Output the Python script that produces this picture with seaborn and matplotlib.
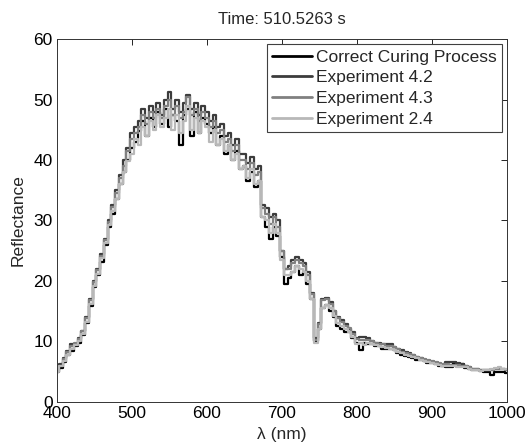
## reflectance spectra at one curing time step
import numpy as np
import pandas as pd
import matplotlib
matplotlib.use("Agg")
import matplotlib.pyplot as plt
import seaborn as sns

## sampling grid (nm)
wavelength = np.arange(400, 1001, 5)

correct = [
    5.0, 5.6, 6.6, 7.8, 8.4, 9.3, 9.8, 11.0, 13.0, 15.8,
    19.0, 21.0, 23.2, 26.0, 29.0, 31.0, 33.5, 36.0, 38.0, 40.0,
    42.0, 43.0, 44.8, 46.5, 44.0, 47.0, 45.5, 48.0, 46.0, 48.5,
    45.5, 47.5, 46.5, 42.5, 47.5, 48.5, 44.0, 48.0, 44.5, 47.0,
    46.0, 44.5, 45.5, 42.5, 44.0, 41.0, 42.5, 40.0, 41.5, 38.5,
    39.0, 36.5, 38.0, 35.5, 36.5, 30.5, 29.0, 27.0, 29.0, 27.5,
    24.0, 19.5, 20.5, 21.5, 22.5, 21.0, 21.5, 19.5, 17.0, 10.0,
    12.0, 15.5, 16.0, 15.0, 14.0, 12.5, 12.0, 11.5, 11.5, 10.5,
    9.8, 8.6, 9.8, 9.6, 9.5, 9.2, 9.2, 8.8, 8.8, 8.7,
    8.5, 8.0, 7.8, 7.6, 7.4, 7.2, 7.0, 6.9, 6.7, 6.5,
    6.4, 6.2, 6.0, 6.0, 5.8, 5.8, 6.4, 6.3, 6.2, 5.6,
    5.4, 5.2, 5.2, 5.1, 5.0, 5.0, 4.4, 5.0, 5.0, 4.9,
    4.8]

exp_42 = [
    5.3, 6.2, 7.2, 8.4, 9.5, 9.6, 10.5, 11.8, 14.0, 17.0,
    20.0, 22.0, 24.5, 27.0, 30.0, 32.5, 35.0, 37.5, 40.0, 42.0,
    44.5, 45.5, 46.5, 48.5, 47.0, 49.0, 48.0, 49.5, 47.5, 50.0,
    51.3, 48.5, 50.0, 48.0, 49.5, 50.8, 48.5, 49.5, 47.5, 49.0,
    48.0, 46.5, 47.5, 45.5, 46.0, 44.0, 44.5, 42.5, 43.5, 41.0,
    41.0, 39.5, 40.5, 38.5, 39.0, 32.5, 32.0, 30.5, 31.0, 30.0,
    25.0, 22.0, 22.5, 23.5, 24.0, 23.5, 23.0, 21.5, 18.0, 10.5,
    13.0, 17.0, 17.2, 16.5, 15.0, 14.0, 13.5, 12.8, 12.0, 11.5,
    10.5, 10.8, 10.8, 10.6, 10.0, 9.8, 9.8, 9.6, 9.5, 9.5,
    9.0, 8.8, 8.5, 8.2, 8.0, 7.8, 7.5, 7.2, 7.0, 6.8,
    6.6, 6.4, 6.2, 6.0, 6.6, 6.6, 6.6, 6.4, 6.3, 6.0,
    5.7, 5.5, 5.4, 5.3, 5.3, 5.2, 5.3, 5.4, 5.5, 5.4,
    5.3]

exp_43 = [
    5.2, 6.0, 7.1, 8.2, 9.2, 9.8, 10.4, 11.7, 13.8, 16.8,
    19.8, 21.8, 24.2, 26.8, 29.8, 32.3, 34.5, 37.0, 39.0, 41.5,
    43.5, 44.5, 45.5, 47.5, 46.0, 48.0, 47.0, 48.5, 47.0, 49.0,
    50.0, 47.5, 49.0, 47.0, 48.0, 50.5, 47.5, 48.5, 46.5, 48.0,
    47.0, 45.5, 46.5, 44.5, 45.0, 43.0, 43.5, 41.5, 42.5, 40.0,
    40.0, 38.5, 39.5, 37.5, 38.0, 32.0, 31.0, 29.5, 30.5, 29.0,
    25.0, 22.0, 22.0, 23.0, 23.5, 23.0, 22.5, 21.0, 17.8, 10.3,
    12.8, 16.8, 17.0, 16.2, 15.0, 13.8, 13.2, 12.5, 12.2, 11.2,
    10.4, 10.2, 10.2, 10.2, 10.0, 9.8, 9.6, 9.5, 9.3, 9.2,
    9.0, 8.7, 8.3, 8.1, 7.9, 7.7, 7.5, 7.3, 7.1, 6.9,
    6.8, 6.6, 6.4, 6.2, 6.2, 6.1, 6.1, 6.1, 6.0, 5.9,
    5.7, 5.5, 5.4, 5.3, 5.3, 5.3, 5.3, 5.4, 5.5, 5.4,
    5.3]

exp_24 = [
    5.0, 5.9, 6.8, 7.8, 8.8, 9.4, 10.0, 11.3, 13.2, 16.2,
    19.2, 21.2, 23.8, 26.2, 29.2, 31.5, 33.5, 36.0, 38.0, 39.8,
    41.0, 43.5, 42.5, 45.5, 44.0, 46.5, 45.0, 47.5, 45.5, 47.0,
    48.5, 45.0, 47.5, 44.5, 46.5, 49.0, 45.0, 47.0, 44.5, 46.5,
    45.5, 43.0, 45.0, 42.5, 43.5, 41.5, 42.5, 40.0, 41.0, 38.5,
    39.0, 37.0, 38.5, 36.0, 36.5, 30.5, 30.0, 28.0, 29.5, 28.0,
    23.5, 21.0, 21.0, 21.5, 22.5, 22.0, 21.5, 20.0, 17.0, 9.8,
    12.0, 15.5, 16.0, 15.5, 14.2, 13.0, 12.5, 12.0, 11.5, 10.8,
    9.6, 9.8, 9.4, 9.8, 9.5, 9.4, 9.3, 9.0, 8.9, 8.8,
    8.6, 8.3, 8.0, 7.8, 7.6, 7.4, 7.2, 7.0, 6.8, 6.6,
    6.5, 6.3, 6.1, 6.0, 5.9, 5.9, 5.9, 5.8, 5.8, 5.7,
    5.5, 5.3, 5.2, 5.1, 5.2, 5.2, 5.4, 5.6, 5.8, 5.5,
    5.4]

series_names = ["Correct Curing Process", "Experiment 4.2",
                "Experiment 4.3", "Experiment 2.4"]
series_values = [correct, exp_42, exp_43, exp_24]
series_colors = ["#000000", "#3c3c3c", "#808080", "#b8b8b8"]

x_ticks = [400, 500, 600, 700, 800, 900, 1000]
y_ticks = [0, 10, 20, 30, 40, 50, 60]

## long form table for seaborn
df = pd.concat([
    pd.DataFrame({"wavelength": wavelength, "reflectance": v, "series": n})
    for n, v in zip(series_names, series_values)
], ignore_index=True)

sns.set_style("white")
plt.rcParams["font.family"] = ["Liberation Sans", "DejaVu Sans"]
plt.rcParams["font.size"] = 12

fig = plt.figure(figsize=(5.28, 4.45), dpi=100)
ax = fig.add_axes([0.108, 0.097, 0.852, 0.815])

sns.lineplot(data=df, x="wavelength", y="reflectance", hue="series",
             hue_order=series_names, palette=series_colors,
             estimator=None, drawstyle="steps-mid", linewidth=1.6, ax=ax)

ax.set_xlim(400, 1000)
ax.set_ylim(0, 60)
ax.set_xticks(x_ticks)
ax.set_yticks(y_ticks)
ax.tick_params(direction="in", length=4, width=0.6, top=True, right=True,
               labelsize=12.5, colors="black", pad=3)
for s in ax.spines.values():
    s.set_color("#333333")
    s.set_linewidth(0.7)

ax.set_xlabel("λ (nm)", fontsize=12.5, labelpad=4)
ax.set_ylabel("Reflectance", fontsize=12.5, labelpad=6)
ax.set_title("Time: 510.5263 s", fontsize=12, pad=11)

handles, labels = ax.get_legend_handles_labels()
leg = ax.legend(handles, labels, loc="upper right", fontsize=12.5,
                frameon=True, fancybox=False, edgecolor="#404040",
                framealpha=1, borderaxespad=0.3, handlelength=2.3,
                handletextpad=0.2, labelspacing=0.32, borderpad=0.3)
leg.get_frame().set_linewidth(0.8)
for line in leg.get_lines():
    line.set_linewidth(2)

fig.savefig("out.png", dpi=100)
